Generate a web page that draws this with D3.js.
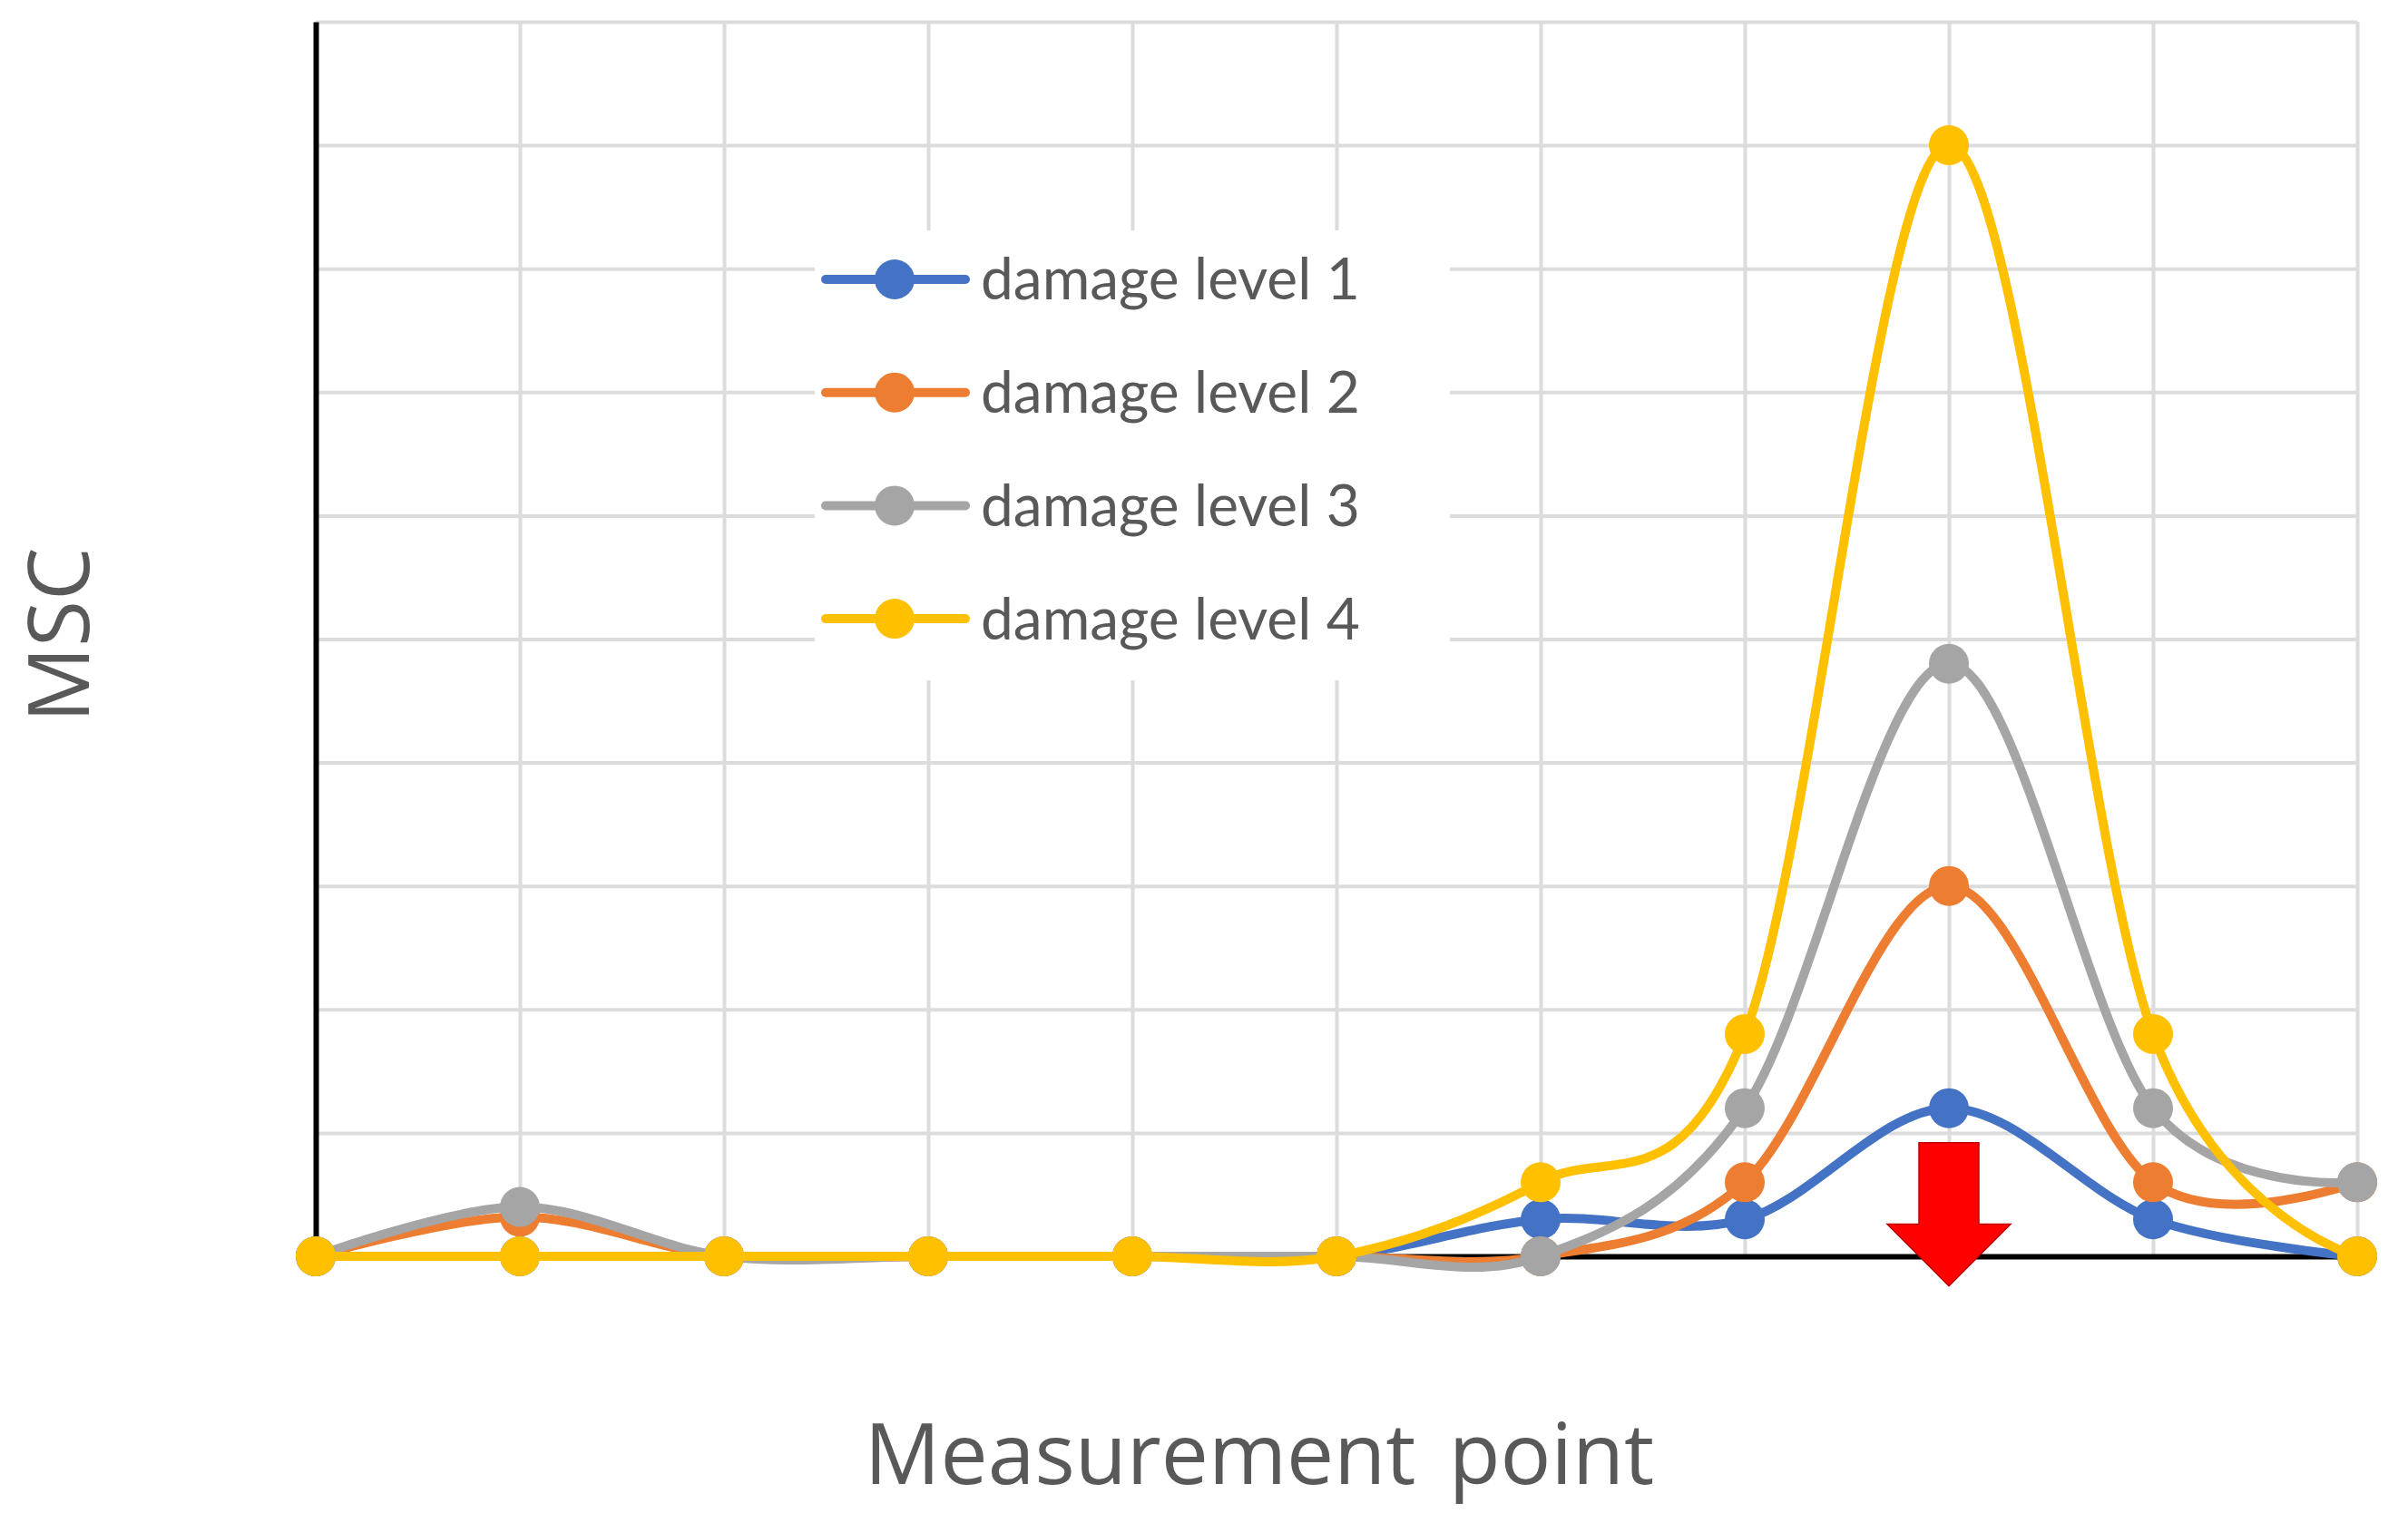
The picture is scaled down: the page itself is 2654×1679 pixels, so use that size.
<!DOCTYPE html>
<html>
<head>
<meta charset="utf-8">
<script src="https://cdnjs.cloudflare.com/ajax/libs/d3/7.8.5/d3.min.js"></script>
<style>
  html, body { margin: 0; padding: 0; background: #fff; }
  svg { display: block; }
</style>
</head>
<body>
<svg id="chart" width="2654" height="1679"></svg>
<script>
// measurement points along the beam (no tick labels shown)
const points = [0, 1, 2, 3, 4, 5, 6, 7, 8, 9, 10];
const seriesNames = ["damage level 1", "damage level 2", "damage level 3", "damage level 4"];
const level1 = [0, 0, 0, 0, 0, 0, 0.3, 0.3, 1.2, 0.3, 0];
const level2 = [0, 0.32, 0, 0, 0, 0, 0, 0.6, 3.0, 0.6, 0.6];
const level3 = [0, 0.4, 0, 0, 0, 0, 0, 1.2, 4.8, 1.2, 0.6];
const level4 = [0, 0, 0, 0, 0, 0, 0.6, 1.8, 9.0, 1.8, 0];
const damagedPoint = 8;

const colors = ["#4472C4", "#ED7D31", "#A5A5A5", "#FFC000"];
const series = [level1, level2, level3, level4];

const margin = {top: 24, right: 56, bottom: 294, left: 348};
const width = 2654, height = 1679;
const innerW = width - margin.left - margin.right;
const innerH = height - margin.top - margin.bottom;

const svg = d3.select("#chart");
const g = svg.append("g").attr("transform", "translate(" + margin.left + "," + margin.top + ")");

const x = d3.scaleLinear().domain([0, 10]).range([0, innerW]);
const y = d3.scaleLinear().domain([0, 10]).range([innerH, 0]);

// gridlines
g.append("g")
  .attr("class", "grid")
  .attr("transform", "translate(0," + innerH + ")")
  .call(d3.axisBottom(x).tickValues(points).tickSize(-innerH).tickFormat(""))
  .call(s => s.select(".domain").remove());
g.append("g")
  .attr("class", "grid")
  .call(d3.axisLeft(y).ticks(10).tickSize(-innerW).tickFormat(""))
  .call(s => s.select(".domain").remove());
g.selectAll(".grid line").attr("stroke", "#dcdcdc").attr("stroke-width", 4);

// legend background hides the grid behind it
const legendX = 898 - margin.left, legendY = 254 - margin.top;
g.append("rect")
  .attr("x", legendX).attr("y", legendY)
  .attr("width", 700).attr("height", 496)
  .attr("fill", "#fff");

// axes
g.append("g")
  .attr("transform", "translate(0," + innerH + ")")
  .call(d3.axisBottom(x).tickValues([]).tickSizeOuter(0))
  .call(s => s.select(".domain").attr("stroke", "#000").attr("stroke-width", 6));
g.append("g")
  .call(d3.axisLeft(y).tickValues([]).tickSizeOuter(0))
  .call(s => s.select(".domain").attr("stroke", "#000").attr("stroke-width", 6));

// excel-like smoothed line
const line = d3.line()
  .x((d, i) => x(points[i]))
  .y(d => y(d))
  .curve(d3.curveCardinal.tension(0));

series.forEach((vals, k) => {
  g.append("path")
    .datum(vals)
    .attr("d", line)
    .attr("fill", "none")
    .attr("stroke", colors[k])
    .attr("stroke-width", 10)
    .attr("stroke-linejoin", "round");
  g.selectAll(".m" + k)
    .data(vals)
    .enter().append("circle")
    .attr("cx", (d, i) => x(points[i]))
    .attr("cy", d => y(d))
    .attr("r", 22)
    .attr("fill", colors[k]);
});

// legend
const legend = g.append("g").attr("transform", "translate(" + (910 - margin.left) + "," + (308 - margin.top) + ")");
seriesNames.forEach((name, k) => {
  const row = legend.append("g").attr("transform", "translate(0," + (k * 124.7) + ")");
  row.append("line")
    .attr("x1", 0).attr("x2", 154)
    .attr("stroke", colors[k]).attr("stroke-width", 10)
    .attr("stroke-linecap", "round");
  row.append("circle").attr("cx", 76).attr("r", 22).attr("fill", colors[k]);
  row.append("text")
    .attr("x", 171).attr("y", 0).attr("dy", "0.35em")
    .attr("font-family", "Lato, 'Open Sans', sans-serif")
    .attr("font-size", 64)
    .attr("fill", "#595959")
    .text(name);
});

// red arrow marking the damaged location
const cx = x(damagedPoint);
const arrowPts = [
  [cx - 33, y(0.92)], [cx + 33, y(0.92)], [cx + 33, y(0.26)], [cx + 68, y(0.26)],
  [cx, y(-0.24)], [cx - 68, y(0.26)], [cx - 33, y(0.26)]
];
g.append("polygon")
  .attr("points", arrowPts.map(p => p.join(",")).join(" "))
  .attr("fill", "#ff0000")
  .attr("stroke", "#c00000")
  .attr("stroke-width", 1.5);

// axis titles
svg.append("text")
  .attr("x", 1388).attr("y", 1636)
  .attr("text-anchor", "middle")
  .attr("font-family", "'Open Sans', 'Noto Sans', sans-serif")
  .attr("font-size", 93)
  .attr("word-spacing", 12)
  .attr("fill", "#595959")
  .text("Measurement point");
svg.append("text")
  .attr("transform", "translate(98,700) rotate(-90)")
  .attr("text-anchor", "middle")
  .attr("font-family", "'Open Sans', 'Noto Sans', sans-serif")
  .attr("font-size", 93)
  .attr("fill", "#595959")
  .text("MSC");
</script>
</body>
</html>
